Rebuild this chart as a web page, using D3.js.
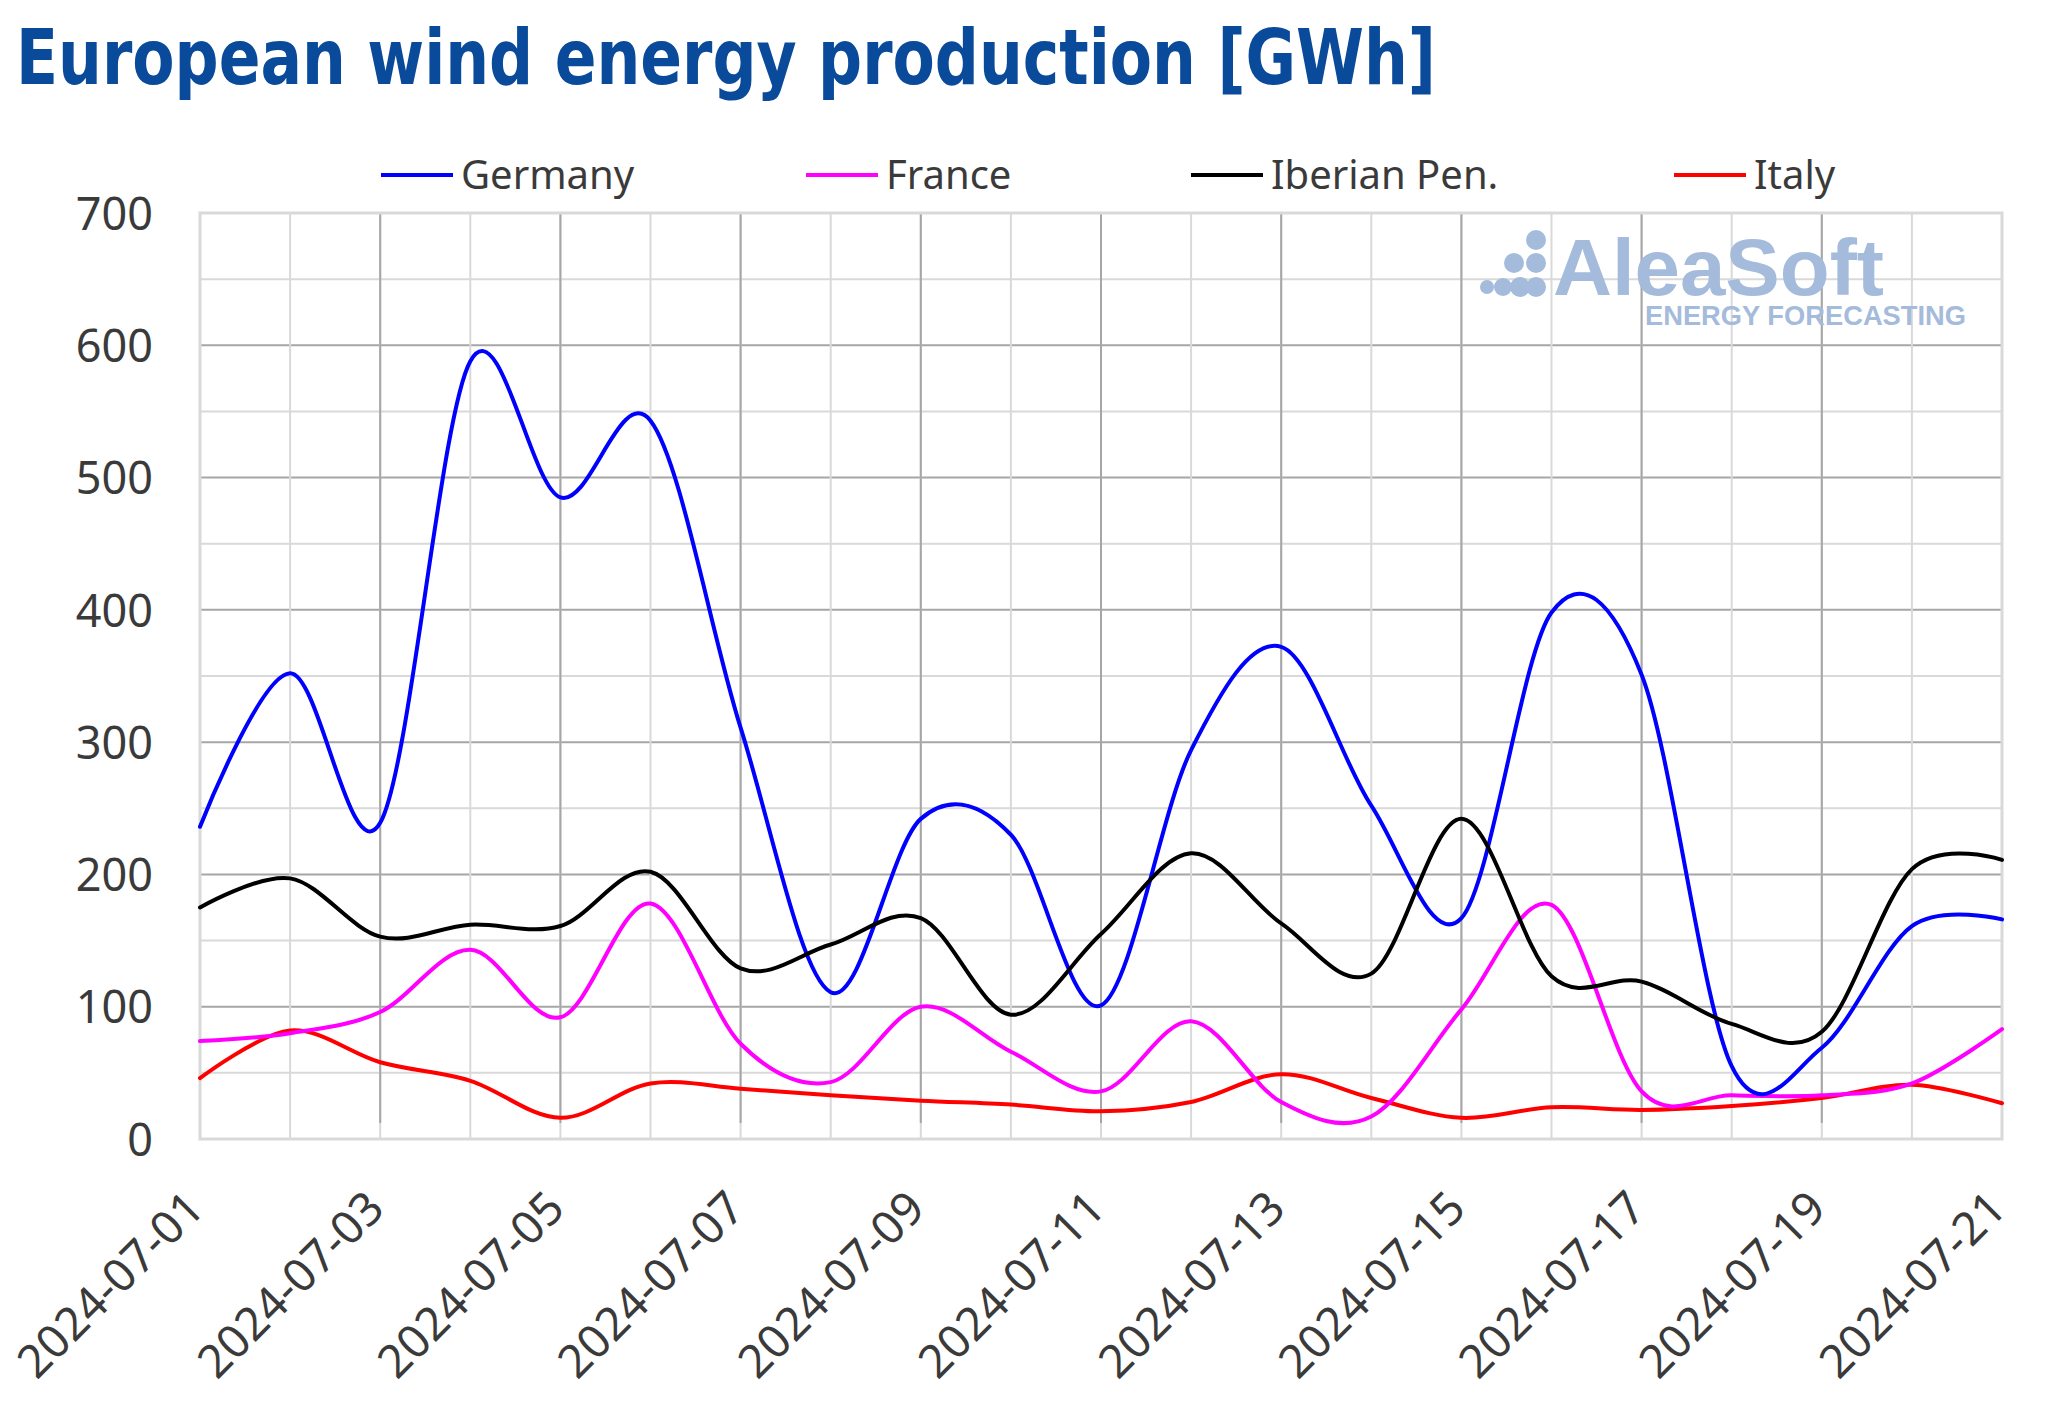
<!DOCTYPE html>
<html>
<head>
<meta charset="utf-8">
<script src="https://cdn.jsdelivr.net/npm/d3@7"></script>
<style>
  html, body { margin: 0; padding: 0; background: #ffffff; }
  svg { display: block; }
</style>
</head>
<body>
<script>
// ---------------- DATA ----------------
const dates = ["2024-07-01","2024-07-02","2024-07-03","2024-07-04","2024-07-05","2024-07-06","2024-07-07",
  "2024-07-08","2024-07-09","2024-07-10","2024-07-11","2024-07-12","2024-07-13","2024-07-14",
  "2024-07-15","2024-07-16","2024-07-17","2024-07-18","2024-07-19","2024-07-20","2024-07-21"];
const germany = [236, 352, 239, 588, 485, 543, 311, 111, 242, 230, 101, 294, 372, 252, 167, 398, 351, 55, 69, 161, 166];
const france  = [74, 80, 96, 143, 92, 178, 72, 43, 100, 66, 36, 89, 28, 17, 98, 177, 36, 33, 33, 42, 83];
const iberian = [175, 197, 153, 162, 161, 202, 129, 147, 167, 94, 155, 216, 163, 125, 242, 123, 119, 87, 81, 204, 211];
const italy   = [46, 82, 58, 44, 16, 42, 38, 33, 29, 26, 21, 28, 49, 31, 16, 24, 22, 25, 31, 41, 27];
const seriesNames = ["Germany", "France", "Iberian Pen.", "Italy"];
const yTicks = [0, 100, 200, 300, 400, 500, 600, 700];
const xTickLabels = dates.filter((d, i) => i % 2 === 0);
const title = "European wind energy production [GWh]";

// ---------------- LAYOUT ----------------
const W = 2048, H = 1426;
const plot = { left: 200, right: 2002, top: 213, bottom: 1139 };
const colors = ["#0000ff", "#ff00ff", "#000000", "#ff0000"];
const legendX = [381, 806, 1191, 1674];

const svg = d3.select("body").append("svg").attr("width", W).attr("height", H);
svg.append("rect").attr("width", W).attr("height", H).attr("fill", "#ffffff");

const parse = d3.timeParse("%Y-%m-%d");
const x = d3.scaleTime().domain([parse(dates[0]), parse(dates[dates.length - 1])]).range([plot.left, plot.right]);
const y = d3.scaleLinear().domain([0, 700]).range([plot.bottom, plot.top]);

// Title
svg.append("text")
  .attr("x", 16).attr("y", 84)
  .attr("font-family", "'Liberation Sans Narrow', 'DejaVu Sans Condensed', 'Liberation Sans', sans-serif")
  .attr("font-weight", "bold").attr("font-size", 77)
  .attr("fill", "#0a4a9a")
  .attr("textLength", 1420).attr("lengthAdjust", "spacingAndGlyphs")
  .text(title);

// Gridlines
const grid = svg.append("g");
const minorY = d3.range(50, 700, 100);
grid.selectAll("line.minory").data(minorY).enter().append("line")
  .attr("x1", plot.left).attr("x2", plot.right)
  .attr("y1", d => y(d)).attr("y2", d => y(d))
  .attr("stroke", "#d9d9d9").attr("stroke-width", 2);
grid.selectAll("line.majory").data(yTicks.filter(v => v > 0 && v < 700)).enter().append("line")
  .attr("x1", plot.left).attr("x2", plot.right)
  .attr("y1", d => y(d)).attr("y2", d => y(d))
  .attr("stroke", "#a6a6a6").attr("stroke-width", 2);
grid.selectAll("line.minorx").data(dates).enter().append("line")
  .attr("x1", d => x(parse(d))).attr("x2", d => x(parse(d)))
  .attr("y1", plot.top).attr("y2", plot.bottom)
  .attr("stroke", "#d9d9d9").attr("stroke-width", 2);
grid.selectAll("line.majorx").data(xTickLabels.slice(1, -1)).enter().append("line")
  .attr("x1", d => x(parse(d))).attr("x2", d => x(parse(d)))
  .attr("y1", plot.top).attr("y2", plot.bottom - 16)
  .attr("stroke", "#a6a6a6").attr("stroke-width", 2);
// Plot border
svg.append("rect")
  .attr("x", plot.left).attr("y", plot.top)
  .attr("width", plot.right - plot.left).attr("height", plot.bottom - plot.top)
  .attr("fill", "none").attr("stroke", "#d9d9d9").attr("stroke-width", 3);

// Watermark logo
const logo = svg.append("g").attr("fill", "#a5bbdb");
const dots = [[1536, 240, 10], [1514, 263, 10], [1536, 263, 10], [1487, 287, 7], [1503, 287, 9], [1520, 287, 10], [1536, 287, 10]];
logo.selectAll("circle").data(dots).enter().append("circle")
  .attr("cx", d => d[0]).attr("cy", d => d[1]).attr("r", d => d[2]);
logo.append("text").attr("x", 1553).attr("y", 295)
  .attr("font-family", "'Liberation Sans', Arial, sans-serif").attr("font-weight", "bold")
  .attr("font-size", 80).attr("textLength", 331).attr("lengthAdjust", "spacingAndGlyphs")
  .text("AleaSoft");
logo.append("text").attr("x", 1645).attr("y", 325)
  .attr("font-family", "'Liberation Sans', Arial, sans-serif").attr("font-weight", "bold")
  .attr("font-size", 28).attr("textLength", 321).attr("lengthAdjust", "spacingAndGlyphs")
  .text("ENERGY FORECASTING");

// Y axis labels
const yAxis = d3.axisLeft(y).tickValues(yTicks).tickSize(0).tickPadding(0);
const gy = svg.append("g").attr("transform", `translate(153,0)`).call(yAxis);
gy.select(".domain").remove();
gy.selectAll("text")
  .attr("font-family", "'Noto Sans', sans-serif").attr("font-size", 45)
  .attr("fill", "#3a3a3a").attr("dy", "0.36em");

// X axis labels
const xAxis = d3.axisBottom(x).tickValues(xTickLabels.map(parse)).tickFormat(d3.timeFormat("%Y-%m-%d")).tickSize(0).tickPadding(0);
const gx = svg.append("g").attr("transform", `translate(0,${plot.bottom})`).call(xAxis);
gx.select(".domain").remove();
gx.selectAll("text")
  .attr("font-family", "'Noto Sans', sans-serif").attr("font-size", 46)
  .attr("fill", "#3a3a3a")
  .attr("text-anchor", "end")
  .attr("dy", 0).attr("y", 0)
  .attr("transform", "translate(6,72) rotate(-45)");

// Lines
const allSeries = [germany, france, iberian, italy];
const line = d3.line()
  .x((d, i) => x(parse(dates[i])))
  .y(d => y(d))
  .curve(d3.curveCardinal.tension(0));
const order = [3, 1, 0, 2];
svg.append("g").selectAll("path").data(order).enter().append("path")
  .attr("d", k => line(allSeries[k]))
  .attr("fill", "none")
  .attr("stroke", k => colors[k])
  .attr("stroke-width", 4)
  .attr("stroke-linejoin", "round").attr("stroke-linecap", "round");

// Legend
const leg = svg.append("g");
seriesNames.forEach((name, k) => {
  leg.append("line")
    .attr("x1", legendX[k]).attr("x2", legendX[k] + 72)
    .attr("y1", 175).attr("y2", 175)
    .attr("stroke", colors[k]).attr("stroke-width", 4);
  leg.append("text")
    .attr("x", legendX[k] + 80).attr("y", 175).attr("dy", "0.36em")
    .attr("font-family", "'Noto Sans', sans-serif").attr("font-size", 40)
    .attr("fill", "#3a3a3a")
    .text(name);
});
</script>
</body>
</html>
